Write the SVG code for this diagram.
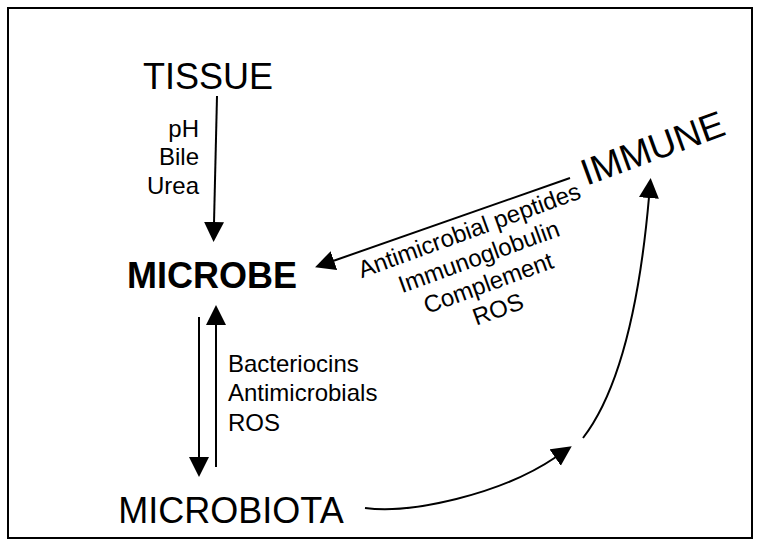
<svg xmlns="http://www.w3.org/2000/svg" width="764" height="550" viewBox="0 0 764 550">
<defs>
<style>
.n{font-family:"Liberation Sans",Arial,sans-serif;font-size:36px;fill:#000}
.b{font-weight:bold}
.l{font-family:"Liberation Sans",Arial,sans-serif;font-size:24px;fill:#000}
.c{fill:none;stroke:#000;stroke-width:2}
</style>
<marker id="ah" markerUnits="userSpaceOnUse" markerWidth="22" markerHeight="22" refX="1" refY="10" orient="auto">
<path d="M0,0 L20,10 L0,20 z" fill="#000"/>
</marker>
</defs>
<rect x="0" y="0" width="764" height="550" fill="#fff"/>
<rect x="8" y="8" width="744" height="530" fill="none" stroke="#000" stroke-width="2"/>
<g id="tissue"><text class="n" x="208" y="89" text-anchor="middle">TISSUE</text></g>
<g id="microbe"><text class="n b" x="212" y="288" text-anchor="middle">MICROBE</text></g>
<g id="microbiota"><text class="n" x="231" y="523" text-anchor="middle">MICROBIOTA</text></g>
<g id="immune"><text class="n" style="font-size:37px" text-anchor="middle" transform="translate(657,160) rotate(-20)">IMMUNE</text></g>
<g id="labels">
<text class="l" text-anchor="end" x="199" y="137">pH</text>
<text class="l" text-anchor="end" x="199" y="165">Bile</text>
<text class="l" text-anchor="end" x="199" y="194">Urea</text>
<text class="l" x="228" y="372">Bacteriocins</text>
<text class="l" x="228" y="401">Antimicrobials</text>
<text class="l" x="228" y="431">ROS</text>
<g transform="translate(472,238) rotate(-20)" text-anchor="middle">
<text class="l" x="0" y="0">Antimicrobial peptides</text>
<text class="l" x="0" y="28">Immunoglobulin</text>
<text class="l" x="0" y="56">Complement</text>
<text class="l" x="0" y="84">ROS</text>
</g>
</g>
<g id="connectors">
<path class="c" d="M217,96 L214,223" marker-end="url(#ah)"/>
<path class="c" d="M199,317 L199,458" marker-end="url(#ah)"/>
<path class="c" d="M216,467 L216,324" marker-end="url(#ah)"/>
<path class="c" d="M570,178 L333,261" marker-end="url(#ah)"/>
<path class="c" d="M365,508 C410,514 500,495 556,457" marker-end="url(#ah)"/>
<path class="c" d="M583,438 C620,390 640,300 649,197" marker-end="url(#ah)"/>
</g>
</svg>
